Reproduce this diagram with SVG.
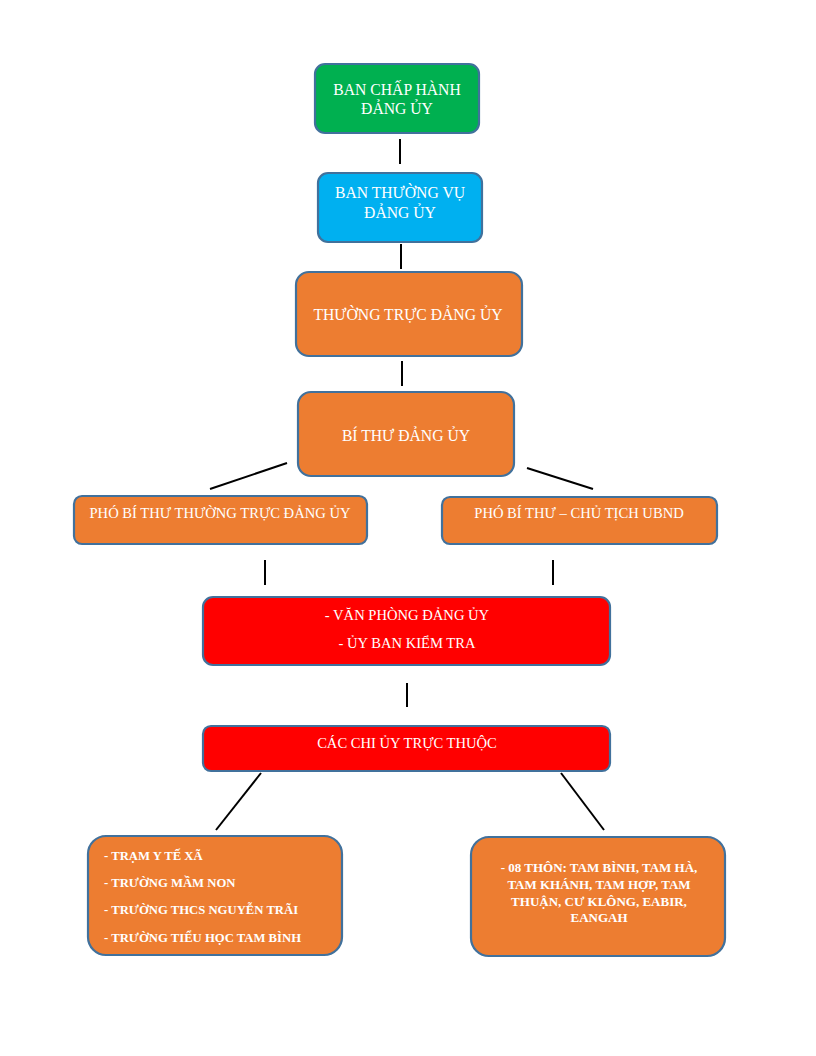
<svg xmlns="http://www.w3.org/2000/svg" width="816" height="1056" viewBox="0 0 816 1056">
<style>
.box{stroke:#41719C;stroke-width:2.2}
.o{fill:#ED7D31}.g{fill:#00B050}.b{fill:#00B0F0}.r{fill:#FF0000}
text{font-family:"Liberation Serif","Times New Roman",serif;fill:#fff;font-size:15.7px;text-anchor:middle;dominant-baseline:central}
.s{font-size:14.6px}
.bd{font-size:13px;font-weight:bold}
.bl{font-size:12.7px;font-weight:bold;text-anchor:start}
.c line{stroke:#000;stroke-width:2}
</style>
<rect width="816" height="1056" fill="#fff"/>
<g class="c" id="connectors">
<line x1="400" y1="139" x2="400" y2="164"/>
<line x1="401" y1="244" x2="401" y2="269"/>
<line x1="402" y1="361" x2="402" y2="386"/>
<line x1="287" y1="463" x2="210" y2="489"/>
<line x1="527" y1="468" x2="593" y2="489"/>
<line x1="265" y1="560" x2="265" y2="585"/>
<line x1="553" y1="560" x2="553" y2="585"/>
<line x1="407" y1="683" x2="407" y2="707"/>
<line x1="261" y1="773" x2="216" y2="830"/>
<line x1="561" y1="773" x2="604" y2="830"/>
</g>
<g id="n1"><rect class="box g" x="315" y="64" width="164" height="69" rx="10"/>
<text x="397" y="89">BAN CHẤP HÀNH</text><text x="397" y="108">ĐẢNG ỦY</text></g>
<g id="n2"><rect class="box b" x="318" y="173" width="164" height="69" rx="10"/>
<text x="400" y="192">BAN THƯỜNG VỤ</text><text x="400" y="212">ĐẢNG ỦY</text></g>
<g id="n3"><rect class="box o" x="296" y="272" width="226" height="84" rx="13"/>
<text x="408" y="314">THƯỜNG TRỰC ĐẢNG ỦY</text></g>
<g id="n4"><rect class="box o" x="298" y="392" width="216" height="84" rx="13"/>
<text x="406" y="435">BÍ THƯ ĐẢNG ỦY</text></g>
<g id="n5"><rect class="box o" x="74" y="496" width="293" height="48" rx="8"/>
<text class="s" x="220" y="513">PHÓ BÍ THƯ THƯỜNG TRỰC ĐẢNG ỦY</text></g>
<g id="n6"><rect class="box o" x="442" y="497" width="275" height="47" rx="8"/>
<text class="s" x="579" y="513">PHÓ BÍ THƯ – CHỦ TỊCH UBND</text></g>
<g id="n7"><rect class="box r" x="203" y="597" width="407" height="68" rx="10"/>
<text class="s" x="407" y="615">- VĂN PHÒNG ĐẢNG ỦY</text><text class="s" x="407" y="643">- ỦY BAN KIỂM TRA</text></g>
<g id="n8"><rect class="box r" x="203" y="726" width="407" height="45" rx="8"/>
<text class="s" x="407" y="743">CÁC CHI ỦY TRỰC THUỘC</text></g>
<g id="n9"><rect class="box o" x="88" y="836" width="254" height="119" rx="18"/>
<text class="bl" x="104" y="856">- TRẠM Y TẾ XÃ</text>
<text class="bl" x="104" y="883">- TRƯỜNG MẦM NON</text>
<text class="bl" x="104" y="910">- TRƯỜNG THCS NGUYỄN TRÃI</text>
<text class="bl" x="104" y="938">- TRƯỜNG TIỂU HỌC TAM BÌNH</text></g>
<g id="n10"><rect class="box o" x="471" y="837" width="254" height="119" rx="18"/>
<text class="bd" x="599" y="867">- 08 THÔN: TAM BÌNH, TAM HÀ,</text>
<text class="bd" x="599" y="884">TAM KHÁNH, TAM HỢP, TAM</text>
<text class="bd" x="599" y="901">THUẬN, CƯ KLÔNG, EABIR,</text>
<text class="bd" x="599" y="917">EANGAH</text></g>
</svg>
